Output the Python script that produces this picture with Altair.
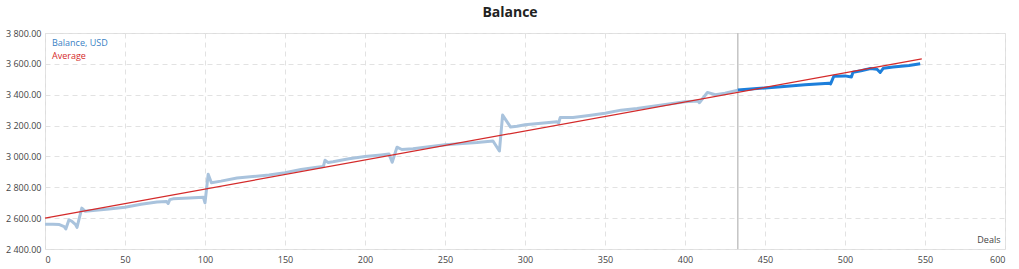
import altair as alt
import pandas as pd

# History balance (deals 0..433)
hist_deals = [0, 5, 9, 12, 13, 15, 17, 19, 20, 23, 25, 30, 40, 50, 60, 70, 76, 77, 78, 80, 90, 99,
              100, 102, 104, 110, 120, 130, 140, 150, 160, 170, 174, 175, 177, 180, 190, 200,
              210, 215, 217, 220, 223, 230, 250, 270, 280, 284, 286, 291, 295, 300, 310, 320,
              321, 322, 330, 340, 350, 360, 370, 380, 390, 400, 408, 409, 414, 419, 425, 433]
hist_vals = [2560, 2560, 2558, 2545, 2530, 2590, 2578, 2560, 2540, 2665, 2645, 2650, 2660, 2670,
             2690, 2705, 2708, 2695, 2720, 2725, 2730, 2735,
             2700, 2885, 2830, 2840, 2860, 2870, 2880, 2895, 2915, 2930, 2935, 2975, 2960, 2965,
             2985, 3000, 3010, 3015, 2962, 3060, 3045, 3050, 3075, 3090, 3100, 3035, 3268, 3190,
             3195, 3205, 3215, 3225, 3215, 3252, 3252, 3265, 3280, 3300, 3310, 3325, 3340, 3355,
             3360, 3348, 3415, 3400, 3410, 3430]

# Forward balance (deals 433..547)
fwd_deals = [433, 445, 460, 475, 490, 491, 493, 500, 504, 505, 510, 516, 520, 522, 524, 530, 540, 547]
fwd_vals = [3430, 3440, 3452, 3465, 3475, 3470, 3520, 3522, 3515, 3545, 3555, 3570, 3565, 3545,
            3572, 3580, 3590, 3600]

# Average (linear trend)
avg_deals = [0, 548]
avg_vals = [2600, 3632]

split_deal = [433]

y_ticks = [2400, 2600, 2800, 3000, 3200, 3400, 3600, 3800]
x_ticks = [0, 50, 100, 150, 200, 250, 300, 350, 400, 450, 500, 550, 600]

legend_labels = ["Balance, USD", "Average"]

hist_df = pd.DataFrame({"deal": hist_deals, "balance": hist_vals})
fwd_df = pd.DataFrame({"deal": fwd_deals, "balance": fwd_vals})
avg_df = pd.DataFrame({"deal": avg_deals, "balance": avg_vals})
split_df = pd.DataFrame({"deal": split_deal})
one_df = pd.DataFrame({"k": [0]})

FONT = "Open Sans"

x_scale = alt.Scale(domain=[0, 600], nice=False, zero=False)
y_scale = alt.Scale(domain=[2400, 3800], nice=False, zero=False)

x_axis = alt.Axis(values=x_ticks, title="Deals", titleX=955, titleY=-5, titleAlign="right",
                  titleBaseline="bottom", titleFontSize=9, titleFontWeight="normal",
                  titleColor="#444", titleFont=FONT,
                  grid=True, gridDash=[5, 4], gridColor="#e2e2e2", domain=False, ticks=False,
                  labelFont=FONT, labelFontSize=9, labelColor="#444", labelPadding=6)
y_axis = alt.Axis(values=y_ticks, title=None,
                  labelExpr="replace(format(datum.value, ',.2f'), ',', ' ')",
                  grid=True, gridDash=[5, 4], gridColor="#e2e2e2", domain=False, ticks=False,
                  labelFont=FONT, labelFontSize=9, labelColor="#444", labelPadding=4)

X = alt.X("deal:Q", scale=x_scale, axis=x_axis)
Y = alt.Y("balance:Q", scale=y_scale, axis=y_axis)

split = alt.Chart(split_df).mark_rule(color="#c4c4c4", strokeWidth=1.5).encode(
    x=X, y=alt.value(0), y2=alt.value(216))

hist = alt.Chart(hist_df).mark_line(color="#a9c3dd", strokeWidth=3, strokeJoin="round").encode(
    x=X, y=Y)
fwd = alt.Chart(fwd_df).mark_line(color="#1d7fdb", strokeWidth=3, strokeJoin="round").encode(
    x=X, y=Y)
avg = alt.Chart(avg_df).mark_line(color="#d42a2a", strokeWidth=1.3).encode(
    x=X, y=Y)

leg1 = alt.Chart(one_df).mark_text(align="left", baseline="middle", font=FONT, fontSize=9,
                                   color="#3a7fc4").encode(
    x=alt.value(7), y=alt.value(10), text=alt.value(legend_labels[0]))
leg2 = alt.Chart(one_df).mark_text(align="left", baseline="middle", font=FONT, fontSize=9,
                                   color="#d42a2a").encode(
    x=alt.value(7), y=alt.value(23), text=alt.value(legend_labels[1]))

chart = alt.layer(split, hist, fwd, avg, leg1, leg2).properties(
    width=960, height=216,
    title=alt.TitleParams("Balance", font=FONT, fontSize=14, fontWeight="bold", color="#222",
                          anchor="middle", dx=-15, offset=9),
    autosize=alt.AutoSizeParams(type="none"),
    padding={"left": 45, "top": 33, "right": 14, "bottom": 20},
).configure_view(stroke="#cfcfcf", strokeWidth=1).configure(background="white")

chart.save("out.html", embed_options={"renderer": "svg", "actions": False})
